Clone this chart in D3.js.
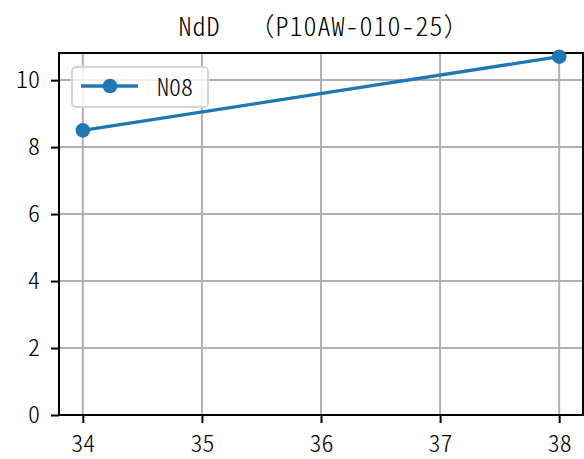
<!DOCTYPE html>
<html>
<head>
<meta charset="utf-8">
<script src="https://cdn.jsdelivr.net/npm/d3@7"></script>
<style>
  body { margin: 0; background: #fff; }
  text { font-family: "Noto Sans CJK JP", sans-serif; font-feature-settings: "hwid" 1; font-weight: 300; fill: #000; }
  tspan.fw { font-feature-settings: normal; }
</style>
</head>
<body>
<div id="chart"></div>
<script>
const xValues = [34, 38];
const yValues = [8.5, 10.7];
const seriesName = "N08";
const xTicks = [34, 35, 36, 37, 38];
const yTicks = [0, 2, 4, 6, 8, 10];
const titleParts = ["NdD", "（", "P10AW-010-25", "）"];

const svg = d3.select('#chart')
  .append('svg')
  .attr('width', 584)
  .attr('height', 459);

const margin = { top: 53, right: 1, bottom: 44, left: 59 },
      width = +svg.attr('width') - margin.left - margin.right,
      height = +svg.attr('height') - margin.top - margin.bottom;

const chart = svg.append('g')
  .attr('transform', `translate(${margin.left},${margin.top})`);

const x = d3.scaleLinear()
  .domain([33.8, 38.2])
  .range([0, width]);

const y = d3.scaleLinear()
  .domain([0, 10.81])
  .range([height, 0]);

// grid
chart.append("g")
  .selectAll("line")
  .data(xTicks)
  .join("line")
  .attr("x1", d => x(d)).attr("x2", d => x(d))
  .attr("y1", 0).attr("y2", height)
  .attr("stroke", "#b0b0b0")
  .attr("stroke-width", 2);

chart.append("g")
  .selectAll("line")
  .data(yTicks)
  .join("line")
  .attr("x1", 0).attr("x2", width)
  .attr("y1", d => y(d)).attr("y2", d => y(d))
  .attr("stroke", "#b0b0b0")
  .attr("stroke-width", 2);

// axes
const xAxis = chart.append("g")
  .attr("transform", `translate(0,${height})`)
  .call(d3.axisBottom(x).tickValues(xTicks).tickSize(8).tickPadding(12).tickFormat(d3.format("d")));

const yAxis = chart.append("g")
  .call(d3.axisLeft(y).tickValues(yTicks).tickSize(8).tickPadding(11).tickFormat(d3.format("d")));

[xAxis, yAxis].forEach(a => {
  a.select(".domain").remove();
  a.selectAll(".tick line").attr("stroke", "#000").attr("stroke-width", 2);
  a.selectAll(".tick text").style("font-size", "24px").style("font-family", null);
});

// spines
chart.append("rect")
  .attr("width", width)
  .attr("height", height)
  .attr("fill", "none")
  .attr("stroke", "#000")
  .attr("stroke-width", 2);

// series
const pts = xValues.map((v, i) => ({ x: v, y: yValues[i] }));

chart.append("path")
  .datum(pts)
  .attr("fill", "none")
  .attr("stroke", "#1f77b4")
  .attr("stroke-width", 3.3)
  .attr("d", d3.line().x(d => x(d.x)).y(d => y(d.y)));

chart.selectAll("circle.pt")
  .data(pts)
  .join("circle")
  .attr("class", "pt")
  .attr("cx", d => x(d.x))
  .attr("cy", d => y(d.y))
  .attr("r", 7.3)
  .attr("fill", "#1f77b4");

// legend
const legend = svg.append("g")
  .attr("transform", "translate(72,67)");

legend.append("rect")
  .attr("width", 136)
  .attr("height", 40)
  .attr("rx", 4)
  .attr("fill", "#fff")
  .attr("fill-opacity", 0.8)
  .attr("stroke", "#d5d5d5")
  .attr("stroke-width", 2);

legend.append("line")
  .attr("x1", 9).attr("x2", 66)
  .attr("y1", 19).attr("y2", 19)
  .attr("stroke", "#1f77b4")
  .attr("stroke-width", 3.3);

legend.append("circle")
  .attr("cx", 38).attr("cy", 19)
  .attr("r", 7.3)
  .attr("fill", "#1f77b4");

legend.append("text")
  .attr("x", 85)
  .attr("y", 29)
  .style("font-size", "24px")
  .text(seriesName);

// title
svg.append("text")
  .attr("x", 178.5)
  .attr("y", 36)
  .style("font-size", "26px")
  .style("letter-spacing", "1px")
  .selectAll("tspan")
  .data(titleParts)
  .join("tspan")
  .attr("class", (d, i) => i % 2 ? "fw" : null)
  .attr("dx", (d, i) => i === 1 ? 28 : null)
  .text(d => d);
</script>
</body>
</html>
